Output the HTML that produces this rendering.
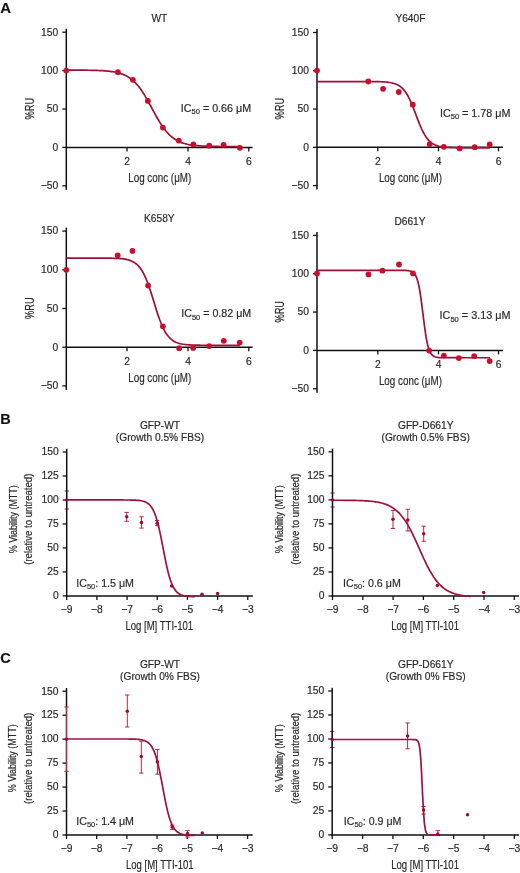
<!DOCTYPE html>
<html><head><meta charset="utf-8"><style>
html,body{margin:0;padding:0;background:#fff;}
svg{display:block;will-change:transform;font-family:"Liberation Sans", sans-serif;}
text{stroke:#2a2a2a;stroke-width:0.18px;}
</style></head><body>
<svg width="520" height="873" viewBox="0 0 520 873">
<rect width="520" height="873" fill="#fff"/>
<line x1="66.3" y1="28.700000000000003" x2="66.3" y2="189.8" stroke="#111111" stroke-width="1.5"/>
<line x1="62.3" y1="32.20" x2="66.3" y2="32.20" stroke="#111111" stroke-width="1.3"/>
<text x="58.30" y="35.50" font-size="10.3" text-anchor="end" fill="#2a2a2a" >150</text>
<line x1="62.3" y1="70.60" x2="66.3" y2="70.60" stroke="#111111" stroke-width="1.3"/>
<text x="58.30" y="73.90" font-size="10.3" text-anchor="end" fill="#2a2a2a" >100</text>
<line x1="62.3" y1="109.00" x2="66.3" y2="109.00" stroke="#111111" stroke-width="1.3"/>
<text x="58.30" y="112.30" font-size="10.3" text-anchor="end" fill="#2a2a2a" >50</text>
<line x1="62.3" y1="147.40" x2="66.3" y2="147.40" stroke="#111111" stroke-width="1.3"/>
<text x="58.30" y="150.70" font-size="10.3" text-anchor="end" fill="#2a2a2a" >0</text>
<line x1="62.3" y1="185.80" x2="66.3" y2="185.80" stroke="#111111" stroke-width="1.3"/>
<text x="58.30" y="189.10" font-size="10.3" text-anchor="end" fill="#2a2a2a" >−50</text>
<line x1="66.3" y1="147.4" x2="252.6" y2="147.4" stroke="#111111" stroke-width="1.5"/>
<line x1="127.00" y1="147.4" x2="127.00" y2="151.4" stroke="#111111" stroke-width="1.3"/>
<text x="127.00" y="164.70" font-size="10.3" text-anchor="middle" fill="#2a2a2a" >2</text>
<line x1="188.00" y1="147.4" x2="188.00" y2="151.4" stroke="#111111" stroke-width="1.3"/>
<text x="188.00" y="164.70" font-size="10.3" text-anchor="middle" fill="#2a2a2a" >4</text>
<line x1="248.80" y1="147.4" x2="248.80" y2="151.4" stroke="#111111" stroke-width="1.3"/>
<text x="248.80" y="164.70" font-size="10.3" text-anchor="middle" fill="#2a2a2a" >6</text>
<text x="159.40" y="21.80" font-size="10.2" text-anchor="middle" fill="#2a2a2a" >WT</text>
<text transform="translate(33.80,108.70) rotate(-90)" x="-10.80" y="0" font-size="12" fill="#2a2a2a" textLength="21.60" lengthAdjust="spacingAndGlyphs">%RU</text>
<text x="128.20" y="182.40" font-size="12.5" fill="#2a2a2a" textLength="63.10" lengthAdjust="spacingAndGlyphs">Log conc (μM)</text>
<path d="M66.30,70.10 L67.76,70.11 L69.22,70.11 L70.68,70.11 L72.14,70.12 L73.60,70.12 L75.06,70.13 L76.52,70.13 L77.98,70.14 L79.44,70.15 L80.90,70.16 L82.36,70.17 L83.82,70.18 L85.28,70.20 L86.74,70.22 L88.19,70.24 L89.65,70.26 L91.11,70.29 L92.57,70.32 L94.03,70.35 L95.49,70.40 L96.95,70.44 L98.41,70.50 L99.87,70.56 L101.33,70.63 L102.79,70.71 L104.25,70.81 L105.71,70.92 L107.17,71.05 L108.63,71.19 L110.09,71.36 L111.55,71.55 L113.01,71.77 L114.47,72.02 L115.93,72.30 L117.39,72.63 L118.85,73.01 L120.31,73.43 L121.77,73.92 L123.23,74.47 L124.69,75.10 L126.15,75.81 L127.61,76.61 L129.07,77.51 L130.53,78.52 L131.98,79.65 L133.44,80.90 L134.90,82.29 L136.36,83.83 L137.82,85.50 L139.28,87.33 L140.74,89.31 L142.20,91.43 L143.66,93.68 L145.12,96.07 L146.58,98.56 L148.04,101.15 L149.50,103.81 L150.96,106.51 L152.42,109.23 L153.88,111.94 L155.34,114.62 L156.80,117.23 L158.26,119.76 L159.72,122.18 L161.18,124.49 L162.64,126.65 L164.10,128.68 L165.56,130.56 L167.02,132.29 L168.48,133.87 L169.94,135.31 L171.40,136.61 L172.86,137.78 L174.32,138.83 L175.77,139.77 L177.23,140.61 L178.69,141.35 L180.15,142.00 L181.61,142.58 L183.07,143.09 L184.53,143.53 L185.99,143.93 L187.45,144.27 L188.91,144.57 L190.37,144.83 L191.83,145.06 L193.29,145.26 L194.75,145.44 L196.21,145.59 L197.67,145.72 L199.13,145.83 L200.59,145.93 L202.05,146.02 L203.51,146.10 L204.97,146.16 L206.43,146.22 L207.89,146.27 L209.35,146.31 L210.81,146.35 L212.27,146.38 L213.73,146.41 L215.19,146.43 L216.65,146.46 L218.11,146.47 L219.56,146.49 L221.02,146.50 L222.48,146.52 L223.94,146.53 L225.40,146.54 L226.86,146.54 L228.32,146.55 L229.78,146.56 L231.24,146.56 L232.70,146.57 L234.16,146.57 L235.62,146.57 L237.08,146.58 L238.54,146.58 L240.00,146.58" fill="none" stroke="#a20f36" stroke-width="1.7"/>
<circle cx="66.30" cy="70.60" r="2.9" fill="#c8102e"/>
<circle cx="117.90" cy="72.20" r="2.9" fill="#c8102e"/>
<circle cx="132.90" cy="79.80" r="2.9" fill="#c8102e"/>
<circle cx="147.90" cy="100.90" r="2.9" fill="#c8102e"/>
<circle cx="162.90" cy="127.60" r="2.9" fill="#c8102e"/>
<circle cx="178.80" cy="140.60" r="2.9" fill="#c8102e"/>
<circle cx="193.40" cy="144.40" r="2.9" fill="#c8102e"/>
<circle cx="209.20" cy="145.70" r="2.9" fill="#c8102e"/>
<circle cx="223.60" cy="144.80" r="2.9" fill="#c8102e"/>
<circle cx="239.90" cy="147.80" r="2.9" fill="#c8102e"/>
<text x="180.80" y="111.80" font-size="10.3" fill="#2a2a2a" textLength="70.40" lengthAdjust="spacingAndGlyphs">IC<tspan font-size="7.21" dy="2.6">50</tspan><tspan dy="-2.6"> = 0.66 μM</tspan></text>
<line x1="317.0" y1="29.0" x2="317.0" y2="189.5666666666667" stroke="#111111" stroke-width="1.5"/>
<line x1="313.0" y1="32.50" x2="317.0" y2="32.50" stroke="#111111" stroke-width="1.3"/>
<text x="309.00" y="35.80" font-size="10.3" text-anchor="end" fill="#2a2a2a" >150</text>
<line x1="313.0" y1="70.77" x2="317.0" y2="70.77" stroke="#111111" stroke-width="1.3"/>
<text x="309.00" y="74.07" font-size="10.3" text-anchor="end" fill="#2a2a2a" >100</text>
<line x1="313.0" y1="109.03" x2="317.0" y2="109.03" stroke="#111111" stroke-width="1.3"/>
<text x="309.00" y="112.33" font-size="10.3" text-anchor="end" fill="#2a2a2a" >50</text>
<line x1="313.0" y1="147.30" x2="317.0" y2="147.30" stroke="#111111" stroke-width="1.3"/>
<text x="309.00" y="150.60" font-size="10.3" text-anchor="end" fill="#2a2a2a" >0</text>
<line x1="313.0" y1="185.57" x2="317.0" y2="185.57" stroke="#111111" stroke-width="1.3"/>
<text x="309.00" y="188.87" font-size="10.3" text-anchor="end" fill="#2a2a2a" >−50</text>
<line x1="317.0" y1="147.3" x2="503" y2="147.3" stroke="#111111" stroke-width="1.5"/>
<line x1="377.80" y1="147.3" x2="377.80" y2="151.3" stroke="#111111" stroke-width="1.3"/>
<text x="377.80" y="164.60" font-size="10.3" text-anchor="middle" fill="#2a2a2a" >2</text>
<line x1="438.50" y1="147.3" x2="438.50" y2="151.3" stroke="#111111" stroke-width="1.3"/>
<text x="438.50" y="164.60" font-size="10.3" text-anchor="middle" fill="#2a2a2a" >4</text>
<line x1="498.50" y1="147.3" x2="498.50" y2="151.3" stroke="#111111" stroke-width="1.3"/>
<text x="498.50" y="164.60" font-size="10.3" text-anchor="middle" fill="#2a2a2a" >6</text>
<text x="410.40" y="21.80" font-size="10.2" text-anchor="middle" fill="#2a2a2a" >Y640F</text>
<text transform="translate(283.70,108.73) rotate(-90)" x="-10.80" y="0" font-size="12" fill="#2a2a2a" textLength="21.60" lengthAdjust="spacingAndGlyphs">%RU</text>
<text x="378.90" y="182.30" font-size="12.5" fill="#2a2a2a" textLength="63.10" lengthAdjust="spacingAndGlyphs">Log conc (μM)</text>
<path d="M317.00,81.53 L318.45,81.53 L319.91,81.53 L321.36,81.53 L322.82,81.53 L324.27,81.53 L325.72,81.53 L327.18,81.53 L328.63,81.53 L330.08,81.53 L331.54,81.53 L332.99,81.53 L334.45,81.53 L335.90,81.53 L337.35,81.53 L338.81,81.53 L340.26,81.53 L341.71,81.53 L343.17,81.53 L344.62,81.53 L346.08,81.53 L347.53,81.53 L348.98,81.53 L350.44,81.53 L351.89,81.54 L353.34,81.54 L354.80,81.54 L356.25,81.54 L357.71,81.54 L359.16,81.54 L360.61,81.54 L362.07,81.54 L363.52,81.55 L364.97,81.55 L366.43,81.56 L367.88,81.56 L369.34,81.57 L370.79,81.58 L372.24,81.59 L373.70,81.61 L375.15,81.63 L376.61,81.65 L378.06,81.68 L379.51,81.72 L380.97,81.77 L382.42,81.84 L383.87,81.91 L385.33,82.01 L386.78,82.14 L388.24,82.30 L389.69,82.50 L391.14,82.75 L392.60,83.06 L394.05,83.45 L395.50,83.93 L396.96,84.53 L398.41,85.28 L399.87,86.20 L401.32,87.32 L402.77,88.68 L404.23,90.31 L405.68,92.24 L407.13,94.51 L408.59,97.12 L410.04,100.08 L411.50,103.36 L412.95,106.90 L414.40,110.65 L415.86,114.51 L417.31,118.37 L418.76,122.13 L420.22,125.70 L421.67,129.01 L423.13,132.00 L424.58,134.65 L426.03,136.95 L427.49,138.92 L428.94,140.58 L430.39,141.97 L431.85,143.11 L433.30,144.05 L434.76,144.81 L436.21,145.42 L437.66,145.92 L439.12,146.32 L440.57,146.64 L442.03,146.89 L443.48,147.10 L444.93,147.26 L446.39,147.39 L447.84,147.49 L449.29,147.57 L450.75,147.63 L452.20,147.69 L453.66,147.73 L455.11,147.76 L456.56,147.78 L458.02,147.80 L459.47,147.82 L460.92,147.83 L462.38,147.84 L463.83,147.85 L465.29,147.86 L466.74,147.86 L468.19,147.86 L469.65,147.87 L471.10,147.87 L472.55,147.87 L474.01,147.87 L475.46,147.87 L476.92,147.88 L478.37,147.88 L479.82,147.88 L481.28,147.88 L482.73,147.88 L484.18,147.88 L485.64,147.88 L487.09,147.88 L488.55,147.88 L490.00,147.88" fill="none" stroke="#a20f36" stroke-width="1.7"/>
<circle cx="317.00" cy="70.60" r="2.9" fill="#c8102e"/>
<circle cx="368.30" cy="81.50" r="2.9" fill="#c8102e"/>
<circle cx="383.10" cy="88.80" r="2.9" fill="#c8102e"/>
<circle cx="398.80" cy="92.00" r="2.9" fill="#c8102e"/>
<circle cx="412.80" cy="104.70" r="2.9" fill="#c8102e"/>
<circle cx="429.70" cy="144.10" r="2.9" fill="#c8102e"/>
<circle cx="443.80" cy="146.80" r="2.9" fill="#c8102e"/>
<circle cx="459.70" cy="148.40" r="2.9" fill="#c8102e"/>
<circle cx="474.70" cy="147.20" r="2.9" fill="#c8102e"/>
<circle cx="489.70" cy="144.50" r="2.9" fill="#c8102e"/>
<text x="440.00" y="116.50" font-size="10.3" fill="#2a2a2a" textLength="70.40" lengthAdjust="spacingAndGlyphs">IC<tspan font-size="7.21" dy="2.6">50</tspan><tspan dy="-2.6"> = 1.78 μM</tspan></text>
<line x1="66.3" y1="227.6" x2="66.3" y2="389.9" stroke="#111111" stroke-width="1.5"/>
<line x1="62.3" y1="231.10" x2="66.3" y2="231.10" stroke="#111111" stroke-width="1.3"/>
<text x="58.30" y="234.40" font-size="10.3" text-anchor="end" fill="#2a2a2a" >150</text>
<line x1="62.3" y1="269.80" x2="66.3" y2="269.80" stroke="#111111" stroke-width="1.3"/>
<text x="58.30" y="273.10" font-size="10.3" text-anchor="end" fill="#2a2a2a" >100</text>
<line x1="62.3" y1="308.50" x2="66.3" y2="308.50" stroke="#111111" stroke-width="1.3"/>
<text x="58.30" y="311.80" font-size="10.3" text-anchor="end" fill="#2a2a2a" >50</text>
<line x1="62.3" y1="347.20" x2="66.3" y2="347.20" stroke="#111111" stroke-width="1.3"/>
<text x="58.30" y="350.50" font-size="10.3" text-anchor="end" fill="#2a2a2a" >0</text>
<line x1="62.3" y1="385.90" x2="66.3" y2="385.90" stroke="#111111" stroke-width="1.3"/>
<text x="58.30" y="389.20" font-size="10.3" text-anchor="end" fill="#2a2a2a" >−50</text>
<line x1="66.3" y1="347.2" x2="252.6" y2="347.2" stroke="#111111" stroke-width="1.5"/>
<line x1="127.00" y1="347.2" x2="127.00" y2="351.2" stroke="#111111" stroke-width="1.3"/>
<text x="127.00" y="364.50" font-size="10.3" text-anchor="middle" fill="#2a2a2a" >2</text>
<line x1="188.00" y1="347.2" x2="188.00" y2="351.2" stroke="#111111" stroke-width="1.3"/>
<text x="188.00" y="364.50" font-size="10.3" text-anchor="middle" fill="#2a2a2a" >4</text>
<line x1="248.80" y1="347.2" x2="248.80" y2="351.2" stroke="#111111" stroke-width="1.3"/>
<text x="248.80" y="364.50" font-size="10.3" text-anchor="middle" fill="#2a2a2a" >6</text>
<text x="159.30" y="221.50" font-size="10.2" text-anchor="middle" fill="#2a2a2a" >K658Y</text>
<text transform="translate(33.80,308.20) rotate(-90)" x="-10.80" y="0" font-size="12" fill="#2a2a2a" textLength="21.60" lengthAdjust="spacingAndGlyphs">%RU</text>
<text x="128.20" y="382.20" font-size="12.5" fill="#2a2a2a" textLength="63.10" lengthAdjust="spacingAndGlyphs">Log conc (μM)</text>
<path d="M66.30,258.06 L67.76,258.06 L69.22,258.06 L70.68,258.06 L72.14,258.06 L73.60,258.06 L75.06,258.06 L76.52,258.06 L77.98,258.06 L79.44,258.06 L80.90,258.06 L82.36,258.06 L83.82,258.06 L85.28,258.06 L86.74,258.06 L88.19,258.06 L89.65,258.07 L91.11,258.07 L92.57,258.07 L94.03,258.07 L95.49,258.07 L96.95,258.08 L98.41,258.08 L99.87,258.09 L101.33,258.09 L102.79,258.10 L104.25,258.11 L105.71,258.12 L107.17,258.14 L108.63,258.16 L110.09,258.18 L111.55,258.21 L113.01,258.25 L114.47,258.30 L115.93,258.35 L117.39,258.43 L118.85,258.51 L120.31,258.63 L121.77,258.76 L123.23,258.93 L124.69,259.14 L126.15,259.41 L127.61,259.73 L129.07,260.13 L130.53,260.62 L131.98,261.23 L133.44,261.97 L134.90,262.87 L136.36,263.97 L137.82,265.29 L139.28,266.88 L140.74,268.78 L142.20,271.01 L143.66,273.62 L145.12,276.62 L146.58,280.01 L148.04,283.80 L149.50,287.95 L150.96,292.38 L152.42,297.03 L153.88,301.79 L155.34,306.54 L156.80,311.19 L158.26,315.61 L159.72,319.74 L161.18,323.51 L162.64,326.89 L164.10,329.87 L165.56,332.46 L167.02,334.68 L168.48,336.56 L169.94,338.14 L171.40,339.45 L172.86,340.54 L174.32,341.44 L175.77,342.17 L177.23,342.77 L178.69,343.26 L180.15,343.65 L181.61,343.97 L183.07,344.23 L184.53,344.44 L185.99,344.61 L187.45,344.75 L188.91,344.86 L190.37,344.94 L191.83,345.02 L193.29,345.07 L194.75,345.12 L196.21,345.16 L197.67,345.19 L199.13,345.21 L200.59,345.23 L202.05,345.24 L203.51,345.26 L204.97,345.27 L206.43,345.27 L207.89,345.28 L209.35,345.29 L210.81,345.29 L212.27,345.29 L213.73,345.30 L215.19,345.30 L216.65,345.30 L218.11,345.30 L219.56,345.30 L221.02,345.30 L222.48,345.30 L223.94,345.30 L225.40,345.30 L226.86,345.31 L228.32,345.31 L229.78,345.31 L231.24,345.31 L232.70,345.31 L234.16,345.31 L235.62,345.31 L237.08,345.31 L238.54,345.31 L240.00,345.31" fill="none" stroke="#a20f36" stroke-width="1.7"/>
<circle cx="66.30" cy="269.80" r="2.9" fill="#c8102e"/>
<circle cx="117.70" cy="255.30" r="2.9" fill="#c8102e"/>
<circle cx="132.50" cy="250.90" r="2.9" fill="#c8102e"/>
<circle cx="148.10" cy="285.60" r="2.9" fill="#c8102e"/>
<circle cx="162.90" cy="326.30" r="2.9" fill="#c8102e"/>
<circle cx="179.20" cy="348.20" r="2.9" fill="#c8102e"/>
<circle cx="193.10" cy="347.90" r="2.9" fill="#c8102e"/>
<circle cx="209.20" cy="346.10" r="2.9" fill="#c8102e"/>
<circle cx="223.80" cy="340.80" r="2.9" fill="#c8102e"/>
<circle cx="239.70" cy="342.60" r="2.9" fill="#c8102e"/>
<text x="181.20" y="316.90" font-size="10.3" fill="#2a2a2a" textLength="70.00" lengthAdjust="spacingAndGlyphs">IC<tspan font-size="7.21" dy="2.6">50</tspan><tspan dy="-2.6"> = 0.82 μM</tspan></text>
<line x1="317.0" y1="231.9" x2="317.0" y2="392.7333333333333" stroke="#111111" stroke-width="1.5"/>
<line x1="313.0" y1="235.40" x2="317.0" y2="235.40" stroke="#111111" stroke-width="1.3"/>
<text x="309.00" y="238.70" font-size="10.3" text-anchor="end" fill="#2a2a2a" >150</text>
<line x1="313.0" y1="273.73" x2="317.0" y2="273.73" stroke="#111111" stroke-width="1.3"/>
<text x="309.00" y="277.03" font-size="10.3" text-anchor="end" fill="#2a2a2a" >100</text>
<line x1="313.0" y1="312.07" x2="317.0" y2="312.07" stroke="#111111" stroke-width="1.3"/>
<text x="309.00" y="315.37" font-size="10.3" text-anchor="end" fill="#2a2a2a" >50</text>
<line x1="313.0" y1="350.40" x2="317.0" y2="350.40" stroke="#111111" stroke-width="1.3"/>
<text x="309.00" y="353.70" font-size="10.3" text-anchor="end" fill="#2a2a2a" >0</text>
<line x1="313.0" y1="388.73" x2="317.0" y2="388.73" stroke="#111111" stroke-width="1.3"/>
<text x="309.00" y="392.03" font-size="10.3" text-anchor="end" fill="#2a2a2a" >−50</text>
<line x1="317.0" y1="350.4" x2="503" y2="350.4" stroke="#111111" stroke-width="1.5"/>
<line x1="377.80" y1="350.4" x2="377.80" y2="354.4" stroke="#111111" stroke-width="1.3"/>
<text x="377.80" y="367.70" font-size="10.3" text-anchor="middle" fill="#2a2a2a" >2</text>
<line x1="438.50" y1="350.4" x2="438.50" y2="354.4" stroke="#111111" stroke-width="1.3"/>
<text x="438.50" y="367.70" font-size="10.3" text-anchor="middle" fill="#2a2a2a" >4</text>
<line x1="498.50" y1="350.4" x2="498.50" y2="354.4" stroke="#111111" stroke-width="1.3"/>
<text x="498.50" y="367.70" font-size="10.3" text-anchor="middle" fill="#2a2a2a" >6</text>
<text x="410.00" y="224.90" font-size="10.2" text-anchor="middle" fill="#2a2a2a" >D661Y</text>
<text transform="translate(283.70,311.77) rotate(-90)" x="-10.80" y="0" font-size="12" fill="#2a2a2a" textLength="21.60" lengthAdjust="spacingAndGlyphs">%RU</text>
<text x="378.90" y="385.40" font-size="12.5" fill="#2a2a2a" textLength="63.10" lengthAdjust="spacingAndGlyphs">Log conc (μM)</text>
<path d="M317.00,270.30 L318.45,270.30 L319.91,270.30 L321.36,270.30 L322.82,270.30 L324.27,270.30 L325.72,270.30 L327.18,270.30 L328.63,270.30 L330.08,270.30 L331.54,270.30 L332.99,270.30 L334.45,270.30 L335.90,270.30 L337.35,270.30 L338.81,270.30 L340.26,270.30 L341.71,270.30 L343.17,270.30 L344.62,270.30 L346.08,270.30 L347.53,270.30 L348.98,270.30 L350.44,270.30 L351.89,270.30 L353.34,270.30 L354.80,270.30 L356.25,270.30 L357.71,270.30 L359.16,270.30 L360.61,270.30 L362.07,270.30 L363.52,270.30 L364.97,270.30 L366.43,270.30 L367.88,270.30 L369.34,270.30 L370.79,270.30 L372.24,270.30 L373.70,270.30 L375.15,270.30 L376.61,270.30 L378.06,270.30 L379.51,270.30 L380.97,270.30 L382.42,270.30 L383.87,270.30 L385.33,270.30 L386.78,270.30 L388.24,270.30 L389.69,270.30 L391.14,270.30 L392.60,270.30 L394.05,270.30 L395.50,270.30 L396.96,270.31 L398.41,270.31 L399.87,270.32 L401.32,270.33 L402.77,270.35 L404.23,270.38 L405.68,270.43 L407.13,270.53 L408.59,270.69 L410.04,270.97 L411.50,271.45 L412.95,272.27 L414.40,273.64 L415.86,275.92 L417.31,279.59 L418.76,285.21 L420.22,293.23 L421.67,303.58 L423.13,315.35 L424.58,326.93 L426.03,336.81 L427.49,344.27 L428.94,349.41 L430.39,352.71 L431.85,354.76 L433.30,355.98 L434.76,356.71 L436.21,357.13 L437.66,357.38 L439.12,357.53 L440.57,357.61 L442.03,357.66 L443.48,357.69 L444.93,357.70 L446.39,357.71 L447.84,357.72 L449.29,357.72 L450.75,357.72 L452.20,357.72 L453.66,357.72 L455.11,357.72 L456.56,357.72 L458.02,357.72 L459.47,357.72 L460.92,357.72 L462.38,357.72 L463.83,357.73 L465.29,357.73 L466.74,357.73 L468.19,357.73 L469.65,357.73 L471.10,357.73 L472.55,357.73 L474.01,357.73 L475.46,357.73 L476.92,357.73 L478.37,357.73 L479.82,357.73 L481.28,357.73 L482.73,357.73 L484.18,357.73 L485.64,357.73 L487.09,357.73 L488.55,357.73 L490.00,357.73" fill="none" stroke="#a20f36" stroke-width="1.7"/>
<circle cx="317.00" cy="273.50" r="2.9" fill="#c8102e"/>
<circle cx="368.50" cy="274.40" r="2.9" fill="#c8102e"/>
<circle cx="382.50" cy="270.70" r="2.9" fill="#c8102e"/>
<circle cx="399.00" cy="264.50" r="2.9" fill="#c8102e"/>
<circle cx="413.00" cy="273.40" r="2.9" fill="#c8102e"/>
<circle cx="429.20" cy="350.60" r="2.9" fill="#c8102e"/>
<circle cx="443.90" cy="355.60" r="2.9" fill="#c8102e"/>
<circle cx="458.80" cy="358.10" r="2.9" fill="#c8102e"/>
<circle cx="474.20" cy="356.20" r="2.9" fill="#c8102e"/>
<circle cx="489.70" cy="361.10" r="2.9" fill="#c8102e"/>
<text x="439.60" y="319.20" font-size="10.3" fill="#2a2a2a" textLength="70.80" lengthAdjust="spacingAndGlyphs">IC<tspan font-size="7.21" dy="2.6">50</tspan><tspan dy="-2.6"> = 3.13 μM</tspan></text>
<path d="M66.70,491.00 V509.00 M64.50,491.00 H68.90 M64.50,509.00 H68.90" stroke="#b42848" stroke-width="1" fill="none"/>
<path d="M126.70,512.40 V521.30 M124.50,512.40 H128.90 M124.50,521.30 H128.90" stroke="#b42848" stroke-width="1" fill="none"/>
<path d="M141.50,516.80 V528.10 M139.30,516.80 H143.70 M139.30,528.10 H143.70" stroke="#b42848" stroke-width="1" fill="none"/>
<path d="M157.20,520.60 V525.80 M155.00,520.60 H159.40 M155.00,525.80 H159.40" stroke="#b42848" stroke-width="1" fill="none"/>
<line x1="66.7" y1="448.8" x2="66.7" y2="596.65" stroke="#111111" stroke-width="1.5"/>
<line x1="62.7" y1="452.00" x2="66.7" y2="452.00" stroke="#111111" stroke-width="1.3"/>
<text x="58.70" y="455.30" font-size="10.3" text-anchor="end" fill="#2a2a2a" >150</text>
<line x1="62.7" y1="475.98" x2="66.7" y2="475.98" stroke="#111111" stroke-width="1.3"/>
<text x="58.70" y="479.28" font-size="10.3" text-anchor="end" fill="#2a2a2a" >125</text>
<line x1="62.7" y1="499.97" x2="66.7" y2="499.97" stroke="#111111" stroke-width="1.3"/>
<text x="58.70" y="503.27" font-size="10.3" text-anchor="end" fill="#2a2a2a" >100</text>
<line x1="62.7" y1="523.95" x2="66.7" y2="523.95" stroke="#111111" stroke-width="1.3"/>
<text x="58.70" y="527.25" font-size="10.3" text-anchor="end" fill="#2a2a2a" >75</text>
<line x1="62.7" y1="547.93" x2="66.7" y2="547.93" stroke="#111111" stroke-width="1.3"/>
<text x="58.70" y="551.23" font-size="10.3" text-anchor="end" fill="#2a2a2a" >50</text>
<line x1="62.7" y1="571.92" x2="66.7" y2="571.92" stroke="#111111" stroke-width="1.3"/>
<text x="58.70" y="575.22" font-size="10.3" text-anchor="end" fill="#2a2a2a" >25</text>
<line x1="62.7" y1="595.90" x2="66.7" y2="595.90" stroke="#111111" stroke-width="1.3"/>
<text x="58.70" y="599.20" font-size="10.3" text-anchor="end" fill="#2a2a2a" >0</text>
<line x1="65.95" y1="595.9" x2="252.8" y2="595.9" stroke="#111111" stroke-width="1.5"/>
<line x1="66.70" y1="595.9" x2="66.70" y2="599.9" stroke="#111111" stroke-width="1.3"/>
<text x="66.70" y="612.90" font-size="10.3" text-anchor="middle" fill="#2a2a2a" >−9</text>
<line x1="96.88" y1="595.9" x2="96.88" y2="599.9" stroke="#111111" stroke-width="1.3"/>
<text x="96.88" y="612.90" font-size="10.3" text-anchor="middle" fill="#2a2a2a" >−8</text>
<line x1="127.06" y1="595.9" x2="127.06" y2="599.9" stroke="#111111" stroke-width="1.3"/>
<text x="127.06" y="612.90" font-size="10.3" text-anchor="middle" fill="#2a2a2a" >−7</text>
<line x1="157.24" y1="595.9" x2="157.24" y2="599.9" stroke="#111111" stroke-width="1.3"/>
<text x="157.24" y="612.90" font-size="10.3" text-anchor="middle" fill="#2a2a2a" >−6</text>
<line x1="187.42" y1="595.9" x2="187.42" y2="599.9" stroke="#111111" stroke-width="1.3"/>
<text x="187.42" y="612.90" font-size="10.3" text-anchor="middle" fill="#2a2a2a" >−5</text>
<line x1="217.60" y1="595.9" x2="217.60" y2="599.9" stroke="#111111" stroke-width="1.3"/>
<text x="217.60" y="612.90" font-size="10.3" text-anchor="middle" fill="#2a2a2a" >−4</text>
<line x1="247.78" y1="595.9" x2="247.78" y2="599.9" stroke="#111111" stroke-width="1.3"/>
<text x="247.78" y="612.90" font-size="10.3" text-anchor="middle" fill="#2a2a2a" >−3</text>
<text x="160.00" y="429.00" font-size="10.2" text-anchor="middle" fill="#2a2a2a" >GFP-WT</text>
<text x="160.00" y="440.60" font-size="10.2" text-anchor="middle" fill="#2a2a2a" >(Growth 0.5% FBS)</text>
<text transform="translate(16.60,519.20) rotate(-90)" x="-34.00" y="0" font-size="11.4" fill="#2a2a2a" textLength="68.00" lengthAdjust="spacingAndGlyphs">% Viability (MTT)</text>
<text transform="translate(32.40,519.20) rotate(-90)" x="-45.60" y="0" font-size="11.4" fill="#2a2a2a" textLength="91.20" lengthAdjust="spacingAndGlyphs">(relative to untreated)</text>
<text x="125.40" y="630.30" font-size="12" fill="#2a2a2a" textLength="67.80" lengthAdjust="spacingAndGlyphs">Log [M] TTI-101</text>
<path d="M66.70,499.96 L67.78,499.96 L68.86,499.96 L69.93,499.96 L71.01,499.96 L72.09,499.96 L73.17,499.96 L74.25,499.96 L75.33,499.96 L76.40,499.96 L77.48,499.96 L78.56,499.96 L79.64,499.96 L80.72,499.96 L81.79,499.96 L82.87,499.96 L83.95,499.96 L85.03,499.96 L86.11,499.96 L87.18,499.96 L88.26,499.96 L89.34,499.96 L90.42,499.96 L91.50,499.96 L92.58,499.96 L93.65,499.96 L94.73,499.96 L95.81,499.96 L96.89,499.96 L97.97,499.96 L99.04,499.96 L100.12,499.96 L101.20,499.96 L102.28,499.96 L103.36,499.96 L104.44,499.96 L105.51,499.96 L106.59,499.96 L107.67,499.96 L108.75,499.96 L109.83,499.96 L110.90,499.96 L111.98,499.96 L113.06,499.96 L114.14,499.96 L115.22,499.96 L116.29,499.96 L117.37,499.96 L118.45,499.96 L119.53,499.97 L120.61,499.97 L121.69,499.97 L122.76,499.97 L123.84,499.98 L124.92,499.98 L126.00,499.99 L127.08,500.00 L128.15,500.01 L129.23,500.02 L130.31,500.04 L131.39,500.06 L132.47,500.08 L133.55,500.12 L134.62,500.16 L135.70,500.21 L136.78,500.28 L137.86,500.36 L138.94,500.47 L140.01,500.60 L141.09,500.77 L142.17,500.98 L143.25,501.25 L144.33,501.58 L145.41,502.00 L146.48,502.52 L147.56,503.18 L148.64,503.99 L149.72,504.99 L150.80,506.23 L151.87,507.74 L152.95,509.58 L154.03,511.80 L155.11,514.44 L156.19,517.55 L157.26,521.16 L158.34,525.27 L159.42,529.87 L160.50,534.89 L161.58,540.24 L162.66,545.81 L163.73,551.44 L164.81,556.99 L165.89,562.32 L166.97,567.30 L168.05,571.85 L169.12,575.91 L170.20,579.47 L171.28,582.53 L172.36,585.13 L173.44,587.31 L174.52,589.12 L175.59,590.60 L176.67,591.81 L177.75,592.79 L178.83,593.59 L179.91,594.23 L180.98,594.74 L182.06,595.15 L183.14,595.47 L184.22,595.73 L185.30,595.94 L186.37,596.10 L187.45,596.23 L188.53,596.34 L189.61,596.42 L190.69,596.49 L191.77,596.54 L192.84,596.58 L193.92,596.61 L195.00,596.64" fill="none" stroke="#a0113b" stroke-width="1.7"/>
<circle cx="66.70" cy="499.90" r="1.75" fill="#980d36"/>
<circle cx="126.70" cy="516.70" r="1.75" fill="#980d36"/>
<circle cx="141.50" cy="522.50" r="1.75" fill="#980d36"/>
<circle cx="157.20" cy="523.20" r="1.75" fill="#980d36"/>
<circle cx="171.60" cy="585.90" r="1.75" fill="#980d36"/>
<circle cx="202.00" cy="594.20" r="1.75" fill="#980d36"/>
<circle cx="217.60" cy="593.40" r="1.75" fill="#980d36"/>
<text x="76.30" y="586.50" font-size="11" fill="#2a2a2a" textLength="57.70" lengthAdjust="spacingAndGlyphs">IC<tspan font-size="7.70" dy="2.6">50</tspan><tspan dy="-2.6">: 1.5 μM</tspan></text>
<path d="M332.50,493.00 V507.00 M330.30,493.00 H334.70 M330.30,507.00 H334.70" stroke="#b42848" stroke-width="1" fill="none"/>
<path d="M393.00,510.30 V528.50 M390.80,510.30 H395.20 M390.80,528.50 H395.20" stroke="#b42848" stroke-width="1" fill="none"/>
<path d="M407.80,509.30 V531.00 M405.60,509.30 H410.00 M405.60,531.00 H410.00" stroke="#b42848" stroke-width="1" fill="none"/>
<path d="M423.70,526.20 V541.20 M421.50,526.20 H425.90 M421.50,541.20 H425.90" stroke="#b42848" stroke-width="1" fill="none"/>
<line x1="332.5" y1="448.6" x2="332.5" y2="596.75" stroke="#111111" stroke-width="1.5"/>
<line x1="328.5" y1="451.80" x2="332.5" y2="451.80" stroke="#111111" stroke-width="1.3"/>
<text x="324.50" y="455.10" font-size="10.3" text-anchor="end" fill="#2a2a2a" >150</text>
<line x1="328.5" y1="475.83" x2="332.5" y2="475.83" stroke="#111111" stroke-width="1.3"/>
<text x="324.50" y="479.13" font-size="10.3" text-anchor="end" fill="#2a2a2a" >125</text>
<line x1="328.5" y1="499.87" x2="332.5" y2="499.87" stroke="#111111" stroke-width="1.3"/>
<text x="324.50" y="503.17" font-size="10.3" text-anchor="end" fill="#2a2a2a" >100</text>
<line x1="328.5" y1="523.90" x2="332.5" y2="523.90" stroke="#111111" stroke-width="1.3"/>
<text x="324.50" y="527.20" font-size="10.3" text-anchor="end" fill="#2a2a2a" >75</text>
<line x1="328.5" y1="547.93" x2="332.5" y2="547.93" stroke="#111111" stroke-width="1.3"/>
<text x="324.50" y="551.23" font-size="10.3" text-anchor="end" fill="#2a2a2a" >50</text>
<line x1="328.5" y1="571.97" x2="332.5" y2="571.97" stroke="#111111" stroke-width="1.3"/>
<text x="324.50" y="575.27" font-size="10.3" text-anchor="end" fill="#2a2a2a" >25</text>
<line x1="328.5" y1="596.00" x2="332.5" y2="596.00" stroke="#111111" stroke-width="1.3"/>
<text x="324.50" y="599.30" font-size="10.3" text-anchor="end" fill="#2a2a2a" >0</text>
<line x1="331.75" y1="596.0" x2="519" y2="596.0" stroke="#111111" stroke-width="1.5"/>
<line x1="332.50" y1="596.0" x2="332.50" y2="600.0" stroke="#111111" stroke-width="1.3"/>
<text x="332.50" y="613.00" font-size="10.3" text-anchor="middle" fill="#2a2a2a" >−9</text>
<line x1="362.80" y1="596.0" x2="362.80" y2="600.0" stroke="#111111" stroke-width="1.3"/>
<text x="362.80" y="613.00" font-size="10.3" text-anchor="middle" fill="#2a2a2a" >−8</text>
<line x1="393.10" y1="596.0" x2="393.10" y2="600.0" stroke="#111111" stroke-width="1.3"/>
<text x="393.10" y="613.00" font-size="10.3" text-anchor="middle" fill="#2a2a2a" >−7</text>
<line x1="423.40" y1="596.0" x2="423.40" y2="600.0" stroke="#111111" stroke-width="1.3"/>
<text x="423.40" y="613.00" font-size="10.3" text-anchor="middle" fill="#2a2a2a" >−6</text>
<line x1="453.70" y1="596.0" x2="453.70" y2="600.0" stroke="#111111" stroke-width="1.3"/>
<text x="453.70" y="613.00" font-size="10.3" text-anchor="middle" fill="#2a2a2a" >−5</text>
<line x1="484.00" y1="596.0" x2="484.00" y2="600.0" stroke="#111111" stroke-width="1.3"/>
<text x="484.00" y="613.00" font-size="10.3" text-anchor="middle" fill="#2a2a2a" >−4</text>
<line x1="514.30" y1="596.0" x2="514.30" y2="600.0" stroke="#111111" stroke-width="1.3"/>
<text x="514.30" y="613.00" font-size="10.3" text-anchor="middle" fill="#2a2a2a" >−3</text>
<text x="425.70" y="429.00" font-size="10.2" text-anchor="middle" fill="#2a2a2a" >GFP-D661Y</text>
<text x="425.70" y="440.60" font-size="10.2" text-anchor="middle" fill="#2a2a2a" >(Growth 0.5% FBS)</text>
<text transform="translate(283.20,519.20) rotate(-90)" x="-34.00" y="0" font-size="11.4" fill="#2a2a2a" textLength="68.00" lengthAdjust="spacingAndGlyphs">% Viability (MTT)</text>
<text transform="translate(298.60,519.20) rotate(-90)" x="-45.60" y="0" font-size="11.4" fill="#2a2a2a" textLength="91.20" lengthAdjust="spacingAndGlyphs">(relative to untreated)</text>
<text x="391.20" y="630.30" font-size="12" fill="#2a2a2a" textLength="67.80" lengthAdjust="spacingAndGlyphs">Log [M] TTI-101</text>
<path d="M332.50,500.22 L333.66,500.22 L334.82,500.23 L335.99,500.23 L337.15,500.24 L338.31,500.24 L339.47,500.25 L340.64,500.25 L341.80,500.26 L342.96,500.27 L344.12,500.28 L345.28,500.29 L346.45,500.30 L347.61,500.31 L348.77,500.33 L349.93,500.34 L351.09,500.36 L352.26,500.38 L353.42,500.40 L354.58,500.43 L355.74,500.45 L356.91,500.48 L358.07,500.52 L359.23,500.55 L360.39,500.60 L361.55,500.64 L362.72,500.69 L363.88,500.75 L365.04,500.81 L366.20,500.88 L367.37,500.96 L368.53,501.05 L369.69,501.15 L370.85,501.26 L372.01,501.38 L373.18,501.51 L374.34,501.66 L375.50,501.82 L376.66,502.00 L377.83,502.21 L378.99,502.43 L380.15,502.68 L381.31,502.96 L382.47,503.26 L383.64,503.60 L384.80,503.97 L385.96,504.38 L387.12,504.84 L388.28,505.34 L389.45,505.89 L390.61,506.50 L391.77,507.17 L392.93,507.90 L394.10,508.70 L395.26,509.57 L396.42,510.53 L397.58,511.57 L398.74,512.70 L399.91,513.92 L401.07,515.24 L402.23,516.66 L403.39,518.19 L404.56,519.83 L405.72,521.57 L406.88,523.42 L408.04,525.38 L409.20,527.45 L410.37,529.61 L411.53,531.87 L412.69,534.21 L413.85,536.63 L415.02,539.12 L416.18,541.66 L417.34,544.24 L418.50,546.84 L419.66,549.46 L420.83,552.07 L421.99,554.67 L423.15,557.23 L424.31,559.74 L425.47,562.19 L426.64,564.57 L427.80,566.86 L428.96,569.07 L430.12,571.18 L431.29,573.18 L432.45,575.08 L433.61,576.88 L434.77,578.56 L435.93,580.13 L437.10,581.60 L438.26,582.97 L439.42,584.24 L440.58,585.41 L441.75,586.49 L442.91,587.48 L444.07,588.39 L445.23,589.22 L446.39,589.98 L447.56,590.68 L448.72,591.31 L449.88,591.89 L451.04,592.41 L452.21,592.88 L453.37,593.31 L454.53,593.70 L455.69,594.06 L456.85,594.38 L458.02,594.66 L459.18,594.92 L460.34,595.16 L461.50,595.37 L462.66,595.56 L463.83,595.73 L464.99,595.89 L466.15,596.03 L467.31,596.16 L468.48,596.27 L469.64,596.37 L470.80,596.46" fill="none" stroke="#a0113b" stroke-width="1.7"/>
<circle cx="332.50" cy="500.00" r="1.75" fill="#980d36"/>
<circle cx="393.00" cy="519.30" r="1.75" fill="#980d36"/>
<circle cx="407.80" cy="520.00" r="1.75" fill="#980d36"/>
<circle cx="423.70" cy="533.80" r="1.75" fill="#980d36"/>
<circle cx="437.30" cy="585.40" r="1.75" fill="#980d36"/>
<circle cx="483.70" cy="592.60" r="1.75" fill="#980d36"/>
<text x="343.10" y="586.50" font-size="11" fill="#2a2a2a" textLength="57.70" lengthAdjust="spacingAndGlyphs">IC<tspan font-size="7.70" dy="2.6">50</tspan><tspan dy="-2.6">: 0.6 μM</tspan></text>
<line x1="66.5" y1="688.0" x2="66.5" y2="835.75" stroke="#111111" stroke-width="1.5"/>
<line x1="62.5" y1="691.20" x2="66.5" y2="691.20" stroke="#111111" stroke-width="1.3"/>
<text x="58.50" y="694.50" font-size="10.3" text-anchor="end" fill="#2a2a2a" >150</text>
<line x1="62.5" y1="715.17" x2="66.5" y2="715.17" stroke="#111111" stroke-width="1.3"/>
<text x="58.50" y="718.47" font-size="10.3" text-anchor="end" fill="#2a2a2a" >125</text>
<line x1="62.5" y1="739.13" x2="66.5" y2="739.13" stroke="#111111" stroke-width="1.3"/>
<text x="58.50" y="742.43" font-size="10.3" text-anchor="end" fill="#2a2a2a" >100</text>
<line x1="62.5" y1="763.10" x2="66.5" y2="763.10" stroke="#111111" stroke-width="1.3"/>
<text x="58.50" y="766.40" font-size="10.3" text-anchor="end" fill="#2a2a2a" >75</text>
<line x1="62.5" y1="787.07" x2="66.5" y2="787.07" stroke="#111111" stroke-width="1.3"/>
<text x="58.50" y="790.37" font-size="10.3" text-anchor="end" fill="#2a2a2a" >50</text>
<line x1="62.5" y1="811.03" x2="66.5" y2="811.03" stroke="#111111" stroke-width="1.3"/>
<text x="58.50" y="814.33" font-size="10.3" text-anchor="end" fill="#2a2a2a" >25</text>
<line x1="62.5" y1="835.00" x2="66.5" y2="835.00" stroke="#111111" stroke-width="1.3"/>
<text x="58.50" y="838.30" font-size="10.3" text-anchor="end" fill="#2a2a2a" >0</text>
<line x1="65.75" y1="835.0" x2="252.6" y2="835.0" stroke="#111111" stroke-width="1.5"/>
<line x1="66.50" y1="835.0" x2="66.50" y2="839.0" stroke="#111111" stroke-width="1.3"/>
<text x="66.50" y="852.00" font-size="10.3" text-anchor="middle" fill="#2a2a2a" >−9</text>
<line x1="96.68" y1="835.0" x2="96.68" y2="839.0" stroke="#111111" stroke-width="1.3"/>
<text x="96.68" y="852.00" font-size="10.3" text-anchor="middle" fill="#2a2a2a" >−8</text>
<line x1="126.86" y1="835.0" x2="126.86" y2="839.0" stroke="#111111" stroke-width="1.3"/>
<text x="126.86" y="852.00" font-size="10.3" text-anchor="middle" fill="#2a2a2a" >−7</text>
<line x1="157.04" y1="835.0" x2="157.04" y2="839.0" stroke="#111111" stroke-width="1.3"/>
<text x="157.04" y="852.00" font-size="10.3" text-anchor="middle" fill="#2a2a2a" >−6</text>
<line x1="187.22" y1="835.0" x2="187.22" y2="839.0" stroke="#111111" stroke-width="1.3"/>
<text x="187.22" y="852.00" font-size="10.3" text-anchor="middle" fill="#2a2a2a" >−5</text>
<line x1="217.40" y1="835.0" x2="217.40" y2="839.0" stroke="#111111" stroke-width="1.3"/>
<text x="217.40" y="852.00" font-size="10.3" text-anchor="middle" fill="#2a2a2a" >−4</text>
<line x1="247.58" y1="835.0" x2="247.58" y2="839.0" stroke="#111111" stroke-width="1.3"/>
<text x="247.58" y="852.00" font-size="10.3" text-anchor="middle" fill="#2a2a2a" >−3</text>
<path d="M66.50,707.00 V771.30 M64.30,707.00 H68.70 M64.30,771.30 H68.70" stroke="#b42848" stroke-width="1" fill="none"/>
<path d="M127.30,695.00 V727.00 M125.10,695.00 H129.50 M125.10,727.00 H129.50" stroke="#b42848" stroke-width="1" fill="none"/>
<path d="M141.30,741.20 V773.10 M139.10,741.20 H143.50 M139.10,773.10 H143.50" stroke="#b42848" stroke-width="1" fill="none"/>
<path d="M157.40,749.40 V774.20 M155.20,749.40 H159.60 M155.20,774.20 H159.60" stroke="#b42848" stroke-width="1" fill="none"/>
<path d="M172.20,825.20 V829.60 M170.00,825.20 H174.40 M170.00,829.60 H174.40" stroke="#b42848" stroke-width="1" fill="none"/>
<path d="M187.60,830.60 V837.00 M185.40,830.60 H189.80 M185.40,837.00 H189.80" stroke="#b42848" stroke-width="1" fill="none"/>
<text x="160.00" y="668.30" font-size="10.2" text-anchor="middle" fill="#2a2a2a" >GFP-WT</text>
<text x="160.00" y="679.90" font-size="10.2" text-anchor="middle" fill="#2a2a2a" >(Growth 0% FBS)</text>
<text transform="translate(16.40,758.30) rotate(-90)" x="-34.00" y="0" font-size="11.4" fill="#2a2a2a" textLength="68.00" lengthAdjust="spacingAndGlyphs">% Viability (MTT)</text>
<text transform="translate(32.20,758.30) rotate(-90)" x="-45.60" y="0" font-size="11.4" fill="#2a2a2a" textLength="91.20" lengthAdjust="spacingAndGlyphs">(relative to untreated)</text>
<text x="125.90" y="869.20" font-size="12" fill="#2a2a2a" textLength="67.80" lengthAdjust="spacingAndGlyphs">Log [M] TTI-101</text>
<path d="M66.50,738.98 L67.58,738.98 L68.66,738.98 L69.74,738.98 L70.82,738.98 L71.90,738.98 L72.98,738.98 L74.06,738.98 L75.14,738.98 L76.22,738.98 L77.30,738.98 L78.38,738.98 L79.46,738.98 L80.54,738.98 L81.62,738.98 L82.70,738.98 L83.78,738.98 L84.86,738.98 L85.94,738.98 L87.02,738.98 L88.10,738.98 L89.18,738.98 L90.26,738.98 L91.34,738.98 L92.42,738.98 L93.50,738.98 L94.58,738.98 L95.66,738.98 L96.74,738.98 L97.82,738.98 L98.89,738.98 L99.97,738.98 L101.05,738.98 L102.13,738.98 L103.21,738.98 L104.29,738.98 L105.37,738.98 L106.45,738.98 L107.53,738.98 L108.61,738.98 L109.69,738.98 L110.77,738.98 L111.85,738.98 L112.93,738.98 L114.01,738.98 L115.09,738.98 L116.17,738.98 L117.25,738.98 L118.33,738.98 L119.41,738.98 L120.49,738.98 L121.57,738.99 L122.65,738.99 L123.73,738.99 L124.81,739.00 L125.89,739.00 L126.97,739.01 L128.05,739.02 L129.13,739.03 L130.21,739.05 L131.29,739.06 L132.37,739.09 L133.45,739.12 L134.53,739.16 L135.61,739.21 L136.69,739.27 L137.77,739.35 L138.85,739.45 L139.93,739.58 L141.01,739.74 L142.09,739.95 L143.17,740.21 L144.25,740.54 L145.33,740.95 L146.41,741.47 L147.49,742.13 L148.57,742.95 L149.65,743.98 L150.73,745.25 L151.81,746.81 L152.89,748.73 L153.97,751.05 L155.05,753.82 L156.13,757.10 L157.21,760.90 L158.29,765.24 L159.37,770.07 L160.45,775.34 L161.53,780.92 L162.61,786.68 L163.68,792.46 L164.76,798.09 L165.84,803.42 L166.92,808.35 L168.00,812.78 L169.08,816.69 L170.16,820.06 L171.24,822.93 L172.32,825.33 L173.40,827.31 L174.48,828.94 L175.56,830.26 L176.64,831.33 L177.72,832.19 L178.80,832.87 L179.88,833.42 L180.96,833.85 L182.04,834.19 L183.12,834.47 L184.20,834.68 L185.28,834.85 L186.36,834.99 L187.44,835.09 L188.52,835.17 L189.60,835.24 L190.68,835.29 L191.76,835.33 L192.84,835.36 L193.92,835.39 L195.00,835.41" fill="none" stroke="#a0113b" stroke-width="1.7"/>
<circle cx="66.50" cy="739.30" r="1.75" fill="#980d36"/>
<circle cx="127.30" cy="711.20" r="1.75" fill="#980d36"/>
<circle cx="141.30" cy="756.60" r="1.75" fill="#980d36"/>
<circle cx="157.40" cy="761.80" r="1.75" fill="#980d36"/>
<circle cx="172.20" cy="826.90" r="1.75" fill="#980d36"/>
<circle cx="187.60" cy="833.40" r="1.75" fill="#980d36"/>
<circle cx="202.30" cy="832.90" r="1.75" fill="#980d36"/>
<text x="76.30" y="824.60" font-size="11" fill="#2a2a2a" textLength="57.70" lengthAdjust="spacingAndGlyphs">IC<tspan font-size="7.70" dy="2.6">50</tspan><tspan dy="-2.6">: 1.4 μM</tspan></text>
<path d="M332.20,731.40 V747.50 M330.00,731.40 H334.40 M330.00,747.50 H334.40" stroke="#b42848" stroke-width="1" fill="none"/>
<path d="M407.60,723.00 V748.80 M405.40,723.00 H409.80 M405.40,748.80 H409.80" stroke="#b42848" stroke-width="1" fill="none"/>
<path d="M423.60,806.50 V814.10 M421.40,806.50 H425.80 M421.40,814.10 H425.80" stroke="#b42848" stroke-width="1" fill="none"/>
<path d="M437.80,830.60 V835.50 M435.60,830.60 H440.00 M435.60,835.50 H440.00" stroke="#b42848" stroke-width="1" fill="none"/>
<line x1="332.2" y1="687.8" x2="332.2" y2="835.65" stroke="#111111" stroke-width="1.5"/>
<line x1="328.2" y1="691.00" x2="332.2" y2="691.00" stroke="#111111" stroke-width="1.3"/>
<text x="324.20" y="694.30" font-size="10.3" text-anchor="end" fill="#2a2a2a" >150</text>
<line x1="328.2" y1="714.98" x2="332.2" y2="714.98" stroke="#111111" stroke-width="1.3"/>
<text x="324.20" y="718.28" font-size="10.3" text-anchor="end" fill="#2a2a2a" >125</text>
<line x1="328.2" y1="738.97" x2="332.2" y2="738.97" stroke="#111111" stroke-width="1.3"/>
<text x="324.20" y="742.27" font-size="10.3" text-anchor="end" fill="#2a2a2a" >100</text>
<line x1="328.2" y1="762.95" x2="332.2" y2="762.95" stroke="#111111" stroke-width="1.3"/>
<text x="324.20" y="766.25" font-size="10.3" text-anchor="end" fill="#2a2a2a" >75</text>
<line x1="328.2" y1="786.93" x2="332.2" y2="786.93" stroke="#111111" stroke-width="1.3"/>
<text x="324.20" y="790.23" font-size="10.3" text-anchor="end" fill="#2a2a2a" >50</text>
<line x1="328.2" y1="810.92" x2="332.2" y2="810.92" stroke="#111111" stroke-width="1.3"/>
<text x="324.20" y="814.22" font-size="10.3" text-anchor="end" fill="#2a2a2a" >25</text>
<line x1="328.2" y1="834.90" x2="332.2" y2="834.90" stroke="#111111" stroke-width="1.3"/>
<text x="324.20" y="838.20" font-size="10.3" text-anchor="end" fill="#2a2a2a" >0</text>
<line x1="331.45" y1="834.9" x2="519" y2="834.9" stroke="#111111" stroke-width="1.5"/>
<line x1="332.20" y1="834.9" x2="332.20" y2="838.9" stroke="#111111" stroke-width="1.3"/>
<text x="332.20" y="851.90" font-size="10.3" text-anchor="middle" fill="#2a2a2a" >−9</text>
<line x1="362.56" y1="834.9" x2="362.56" y2="838.9" stroke="#111111" stroke-width="1.3"/>
<text x="362.56" y="851.90" font-size="10.3" text-anchor="middle" fill="#2a2a2a" >−8</text>
<line x1="392.92" y1="834.9" x2="392.92" y2="838.9" stroke="#111111" stroke-width="1.3"/>
<text x="392.92" y="851.90" font-size="10.3" text-anchor="middle" fill="#2a2a2a" >−7</text>
<line x1="423.28" y1="834.9" x2="423.28" y2="838.9" stroke="#111111" stroke-width="1.3"/>
<text x="423.28" y="851.90" font-size="10.3" text-anchor="middle" fill="#2a2a2a" >−6</text>
<line x1="453.64" y1="834.9" x2="453.64" y2="838.9" stroke="#111111" stroke-width="1.3"/>
<text x="453.64" y="851.90" font-size="10.3" text-anchor="middle" fill="#2a2a2a" >−5</text>
<line x1="484.00" y1="834.9" x2="484.00" y2="838.9" stroke="#111111" stroke-width="1.3"/>
<text x="484.00" y="851.90" font-size="10.3" text-anchor="middle" fill="#2a2a2a" >−4</text>
<line x1="514.36" y1="834.9" x2="514.36" y2="838.9" stroke="#111111" stroke-width="1.3"/>
<text x="514.36" y="851.90" font-size="10.3" text-anchor="middle" fill="#2a2a2a" >−3</text>
<text x="425.70" y="668.30" font-size="10.2" text-anchor="middle" fill="#2a2a2a" >GFP-D661Y</text>
<text x="425.70" y="679.90" font-size="10.2" text-anchor="middle" fill="#2a2a2a" >(Growth 0% FBS)</text>
<text transform="translate(283.20,758.30) rotate(-90)" x="-34.00" y="0" font-size="11.4" fill="#2a2a2a" textLength="68.00" lengthAdjust="spacingAndGlyphs">% Viability (MTT)</text>
<text transform="translate(298.60,758.30) rotate(-90)" x="-45.60" y="0" font-size="11.4" fill="#2a2a2a" textLength="91.20" lengthAdjust="spacingAndGlyphs">(relative to untreated)</text>
<text x="391.20" y="869.20" font-size="12" fill="#2a2a2a" textLength="67.80" lengthAdjust="spacingAndGlyphs">Log [M] TTI-101</text>
<path d="M332.20,739.52 L333.10,739.52 L334.01,739.52 L334.91,739.52 L335.82,739.52 L336.72,739.52 L337.63,739.52 L338.53,739.52 L339.43,739.52 L340.34,739.52 L341.24,739.52 L342.15,739.52 L343.05,739.52 L343.95,739.52 L344.86,739.52 L345.76,739.52 L346.67,739.52 L347.57,739.52 L348.48,739.52 L349.38,739.52 L350.28,739.52 L351.19,739.52 L352.09,739.52 L353.00,739.52 L353.90,739.52 L354.81,739.52 L355.71,739.52 L356.61,739.52 L357.52,739.52 L358.42,739.52 L359.33,739.52 L360.23,739.52 L361.13,739.52 L362.04,739.52 L362.94,739.52 L363.85,739.52 L364.75,739.52 L365.66,739.52 L366.56,739.52 L367.46,739.52 L368.37,739.52 L369.27,739.52 L370.18,739.52 L371.08,739.52 L371.98,739.52 L372.89,739.52 L373.79,739.52 L374.70,739.52 L375.60,739.52 L376.51,739.52 L377.41,739.52 L378.31,739.52 L379.22,739.52 L380.12,739.52 L381.03,739.52 L381.93,739.52 L382.84,739.52 L383.74,739.52 L384.64,739.52 L385.55,739.52 L386.45,739.52 L387.36,739.52 L388.26,739.52 L389.16,739.52 L390.07,739.52 L390.97,739.52 L391.88,739.52 L392.78,739.52 L393.69,739.52 L394.59,739.52 L395.49,739.52 L396.40,739.52 L397.30,739.52 L398.21,739.52 L399.11,739.52 L400.02,739.52 L400.92,739.52 L401.82,739.52 L402.73,739.52 L403.63,739.52 L404.54,739.52 L405.44,739.52 L406.34,739.52 L407.25,739.52 L408.15,739.52 L409.06,739.52 L409.96,739.52 L410.87,739.52 L411.77,739.52 L412.67,739.53 L413.58,739.55 L414.48,739.59 L415.39,739.68 L416.29,739.90 L417.19,740.39 L418.10,741.52 L419.00,744.00 L419.91,749.26 L420.81,759.34 L421.72,775.48 L422.62,795.09 L423.52,812.29 L424.43,823.58 L425.33,829.64 L426.24,832.55 L427.14,833.87 L428.05,834.45 L428.95,834.71 L429.85,834.82 L430.76,834.87 L431.66,834.89 L432.57,834.90 L433.47,834.90 L434.37,834.90 L435.28,834.90 L436.18,834.91 L437.09,834.91 L437.99,834.91 L438.90,834.91 L439.80,834.91" fill="none" stroke="#a0113b" stroke-width="1.7"/>
<circle cx="332.20" cy="739.40" r="1.75" fill="#980d36"/>
<circle cx="407.60" cy="736.10" r="1.75" fill="#980d36"/>
<circle cx="423.60" cy="810.00" r="1.75" fill="#980d36"/>
<circle cx="437.80" cy="834.00" r="1.75" fill="#980d36"/>
<circle cx="467.50" cy="814.80" r="1.75" fill="#980d36"/>
<text x="343.80" y="824.60" font-size="11" fill="#2a2a2a" textLength="57.70" lengthAdjust="spacingAndGlyphs">IC<tspan font-size="7.70" dy="2.6">50</tspan><tspan dy="-2.6">: 0.9 μM</tspan></text>
<text x="0.2" y="12.7" font-size="15" font-weight="bold" fill="#111">A</text>
<text x="0.2" y="423.8" font-size="14.5" font-weight="bold" fill="#111">B</text>
<text x="0.2" y="663.0" font-size="14.5" font-weight="bold" fill="#111">C</text>
</svg>
</body></html>
